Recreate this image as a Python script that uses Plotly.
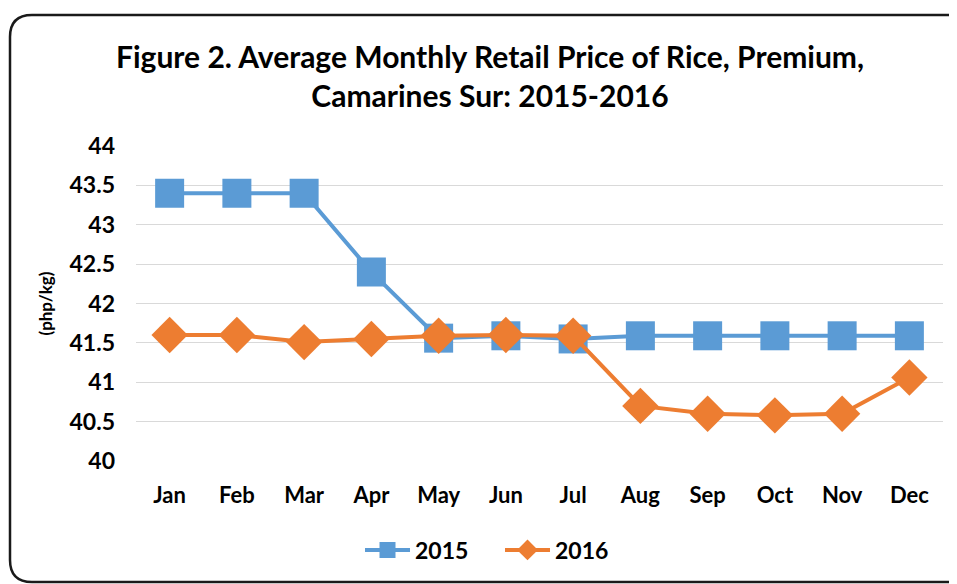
import plotly.graph_objects as go

months = ["Jan", "Feb", "Mar", "Apr", "May", "Jun", "Jul", "Aug", "Sep", "Oct", "Nov", "Dec"]
price_2015 = [43.40, 43.40, 43.40, 42.40, 41.56, 41.59, 41.55, 41.59, 41.59, 41.59, 41.59, 41.59]
price_2016 = [41.60, 41.60, 41.51, 41.55, 41.59, 41.60, 41.59, 40.70, 40.60, 40.58, 40.60, 41.06]
y_ticks = [40, 40.5, 41, 41.5, 42, 42.5, 43, 43.5, 44]
y_tick_labels = ["40", "40.5", "41", "41.5", "42", "42.5", "43", "43.5", "44"]

# page body adds an 8px offset; positions below are expressed in screen pixels
OFF = 8
W, H = 957, 584
L, T = 136 - OFF, 146 - OFF
R = W - (943 - OFF)
B = H - (461 - OFF)
pw, ph = W - L - R, H - T - B

def px(x):
    return (x - OFF - L) / pw

def py(y):
    return (H - B - (y - OFF)) / ph

FONT = "Lato"

fig = go.Figure()
fig.add_trace(go.Scatter(
    x=months, y=price_2015, name="<b>2015</b>", mode="lines+markers",
    line=dict(color="#5B9BD5", width=4),
    marker=dict(symbol="square", size=29, color="#5B9BD5"),
))
fig.add_trace(go.Scatter(
    x=months, y=price_2016, name="<b>2016</b>", mode="lines+markers",
    line=dict(color="#ED7D31", width=4),
    marker=dict(symbol="diamond", size=28, color="#ED7D31"),
))

# rounded border
x0, x1, y0, y1 = px(10), px(970), py(15), py(582)
rx, ry = 22 / pw, 22 / ph
path = (f"M {x0+rx},{y0} L {x1-rx},{y0} Q {x1},{y0} {x1},{y0-ry} "
        f"L {x1},{y1+ry} Q {x1},{y1} {x1-rx},{y1} "
        f"L {x0+rx},{y1} Q {x0},{y1} {x0},{y1+ry} "
        f"L {x0},{y0-ry} Q {x0},{y0} {x0+rx},{y0} Z")

fig.update_layout(
    width=W, height=H,
    margin=dict(l=L, r=R, t=T, b=B, autoexpand=False),
    paper_bgcolor="white", plot_bgcolor="white",
    font=dict(family=FONT, color="black"),
    title=dict(
        text="<b>Figure 2. Average Monthly Retail Price of Rice, Premium,<br>Camarines Sur: 2015-2016</b>",
        x=px(490), xref="paper", xanchor="center",
        y=1 - (68 - OFF) / H, yanchor="top",
        font=dict(size=30, family=FONT, color="black"),
    ),
    xaxis=dict(
        type="category", range=[-0.5, 11.5], showgrid=False, showline=False, ticks="",
        tickvals=months, ticktext=[f"<b>{m}</b>" for m in months],
        tickfont=dict(size=22, family=FONT, color="black"),
        ticklabelstandoff=19,
    ),
    yaxis=dict(
        range=[40, 44], tickvals=y_ticks, ticktext=[f"<b>{t}</b>" for t in y_tick_labels],
        showgrid=True, gridcolor="#D9D9D9", gridwidth=1.3, zeroline=False, showline=False,
        tickfont=dict(size=23, family=FONT, color="black"),
        ticklabelstandoff=20,
        title=dict(text="<b>(php/kg)</b>", font=dict(size=17, family=FONT), standoff=12),
    ),
    legend=dict(
        orientation="h", x=px(500), xanchor="center", y=py(550), yanchor="middle",
        font=dict(size=23, family=FONT, color="black"),
        itemwidth=45, entrywidth=80,
    ),
    shapes=[dict(type="path", path=path, xref="paper", yref="paper",
                 line=dict(color="#1a1a1a", width=2.5), layer="above")],
    showlegend=True,
)

fig.write_html("out.html")
